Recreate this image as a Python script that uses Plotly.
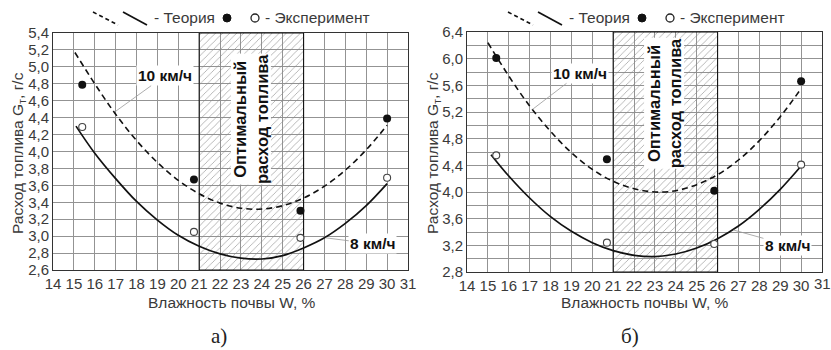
import plotly.graph_objects as go

W_ = 831
H_ = 350

# ---------------- data ----------------
# panel a)
W_exp_a = [15.4, 20.75, 25.85, 30.0]
G10_exp_a = [4.79, 3.67, 3.30, 4.39]
G8_exp_a = [4.29, 3.05, 2.98, 3.69]

W_th10_a = [15.05, 16, 17, 18, 19, 20, 21, 22, 23, 24, 25, 26, 27, 28, 29, 30]
G10_th_a = [5.17, 4.80, 4.44, 4.13, 3.87, 3.66, 3.50, 3.39, 3.33, 3.32, 3.36, 3.45, 3.59, 3.78, 4.02, 4.31]
W_th8_a = [15.1, 16, 17, 18, 19, 20, 21, 22, 23, 24, 25, 26, 27, 28, 29, 30]
G8_th_a = [4.30, 3.98, 3.68, 3.41, 3.19, 3.01, 2.88, 2.79, 2.74, 2.73, 2.77, 2.86, 2.98, 3.15, 3.36, 3.62]

# panel б)
W_exp_b = [15.4, 20.7, 25.84, 30.0]
G10_exp_b = [6.01, 4.49, 4.02, 5.66]
G8_exp_b = [4.55, 3.24, 3.22, 4.41]

W_th10_b = [15.0, 16, 17, 18, 19, 20, 21, 22, 23, 24, 25, 26, 27, 28, 29, 30]
G10_th_b = [6.24, 5.74, 5.29, 4.91, 4.59, 4.34, 4.16, 4.05, 4.00, 4.02, 4.11, 4.26, 4.48, 4.77, 5.13, 5.55]
W_th8_b = [15.15, 16, 17, 18, 19, 20, 21, 22, 23, 24, 25, 26, 27, 28, 29, 30]
G8_th_b = [4.56, 4.24, 3.91, 3.63, 3.41, 3.24, 3.12, 3.05, 3.03, 3.07, 3.16, 3.30, 3.49, 3.74, 4.04, 4.39]

OPT_RANGE = [21, 26]
X_RANGE = [14, 31]
X_TICKS = list(range(14, 32))
Y_RANGE_A = [2.6, 5.4]
Y_RANGE_B = [2.8, 6.4]

FONT = "Liberation Sans, Arial, sans-serif"
TXT = "#3a3a3a"


def px(x):
    return x / W_


def py(y):
    return 1 - y / H_


fig = go.Figure()

panels = [
    dict(xa="x", ya="y", xr=(53, 408), yr=(33, 270), yrange=Y_RANGE_A,
         W=W_exp_a, G10=G10_exp_a, G8=G8_exp_a,
         Wt10=W_th10_a, Gt10=G10_th_a, Wt8=W_th8_a, Gt8=G8_th_a),
    dict(xa="x2", ya="y2", xr=(467, 822), yr=(32, 272), yrange=Y_RANGE_B,
         W=W_exp_b, G10=G10_exp_b, G8=G8_exp_b,
         Wt10=W_th10_b, Gt10=G10_th_b, Wt8=W_th8_b, Gt8=G8_th_b),
]

for p in panels:
    y0, y1 = p["yrange"]
    # optimal zone hatched
    fig.add_trace(go.Scatter(
        x=[OPT_RANGE[0], OPT_RANGE[1], OPT_RANGE[1], OPT_RANGE[0], OPT_RANGE[0]],
        y=[y0, y0, y1, y1, y0],
        mode="lines", fill="toself",
        fillcolor="rgba(0,0,0,0)",
        fillpattern=dict(shape="/", fgcolor="#8a8a8a", size=5, solidity=0.12),
        line=dict(color="#111", width=1.1),
        xaxis=p["xa"], yaxis=p["ya"], hoverinfo="skip", showlegend=False))
    # theory curves
    fig.add_trace(go.Scatter(
        x=p["Wt10"], y=p["Gt10"], mode="lines", line_shape="spline",
        line=dict(color="#111", width=1.6, dash="6px,4px"),
        xaxis=p["xa"], yaxis=p["ya"], showlegend=False))
    fig.add_trace(go.Scatter(
        x=p["Wt8"], y=p["Gt8"], mode="lines", line_shape="spline",
        line=dict(color="#111", width=1.7),
        xaxis=p["xa"], yaxis=p["ya"], showlegend=False))
    # experiment points
    fig.add_trace(go.Scatter(
        x=p["W"], y=p["G10"], mode="markers",
        marker=dict(color="#111", size=8, line=dict(width=0)),
        xaxis=p["xa"], yaxis=p["ya"], showlegend=False))
    fig.add_trace(go.Scatter(
        x=p["W"], y=p["G8"], mode="markers",
        marker=dict(color="white", size=7, line=dict(color="#444", width=1.1)),
        xaxis=p["xa"], yaxis=p["ya"], showlegend=False))

axis_common = dict(
    showgrid=True, gridcolor="#939393", gridwidth=1,
    showline=True, linecolor="#333", linewidth=1, mirror=True,
    zeroline=False, ticks="", automargin=False, ticklabeloverflow="allow",
    tickfont=dict(family=FONT, size=15, color=TXT),
)

layout_axes = {}
for i, p in enumerate(panels):
    sfx = "" if i == 0 else str(i + 1)
    # the last label of the right panel would touch the page edge and is
    # dropped by plotly, so it is written as an annotation below instead
    ttext = [str(t) for t in X_TICKS]
    if i == 1:
        ttext[-1] = ""
    layout_axes["xaxis" + sfx] = dict(
        axis_common, range=X_RANGE, tickmode="array", tickvals=X_TICKS,
        ticktext=ttext,
        domain=[px(p["xr"][0]), px(p["xr"][1])],
        anchor="y" + sfx)
    ya = dict(axis_common, range=p["yrange"], tickformat=".1f",
              domain=[py(p["yr"][1]), py(p["yr"][0])], anchor="x" + sfx)
    if i == 0:
        ya.update(dtick=0.2, tick0=2.6)
    else:
        ya.update(dtick=0.4, tick0=2.8,
                  minor=dict(dtick=0.2, tick0=2.8, showgrid=True,
                             gridcolor="#939393", gridwidth=1))
    layout_axes["yaxis" + sfx] = ya

fig.update_layout(
    template="none",
    width=W_, height=H_,
    margin=dict(l=0, r=0, t=0, b=0, pad=0, autoexpand=False),
    paper_bgcolor="white", plot_bgcolor="white",
    separators=", ",
    showlegend=False,
    font=dict(family=FONT, color=TXT),
    **layout_axes,
)

ann = []
shapes = []


def pann(x, y, text, size, family=FONT, color=TXT, angle=0, xanchor="center"):
    return dict(x=px(x), y=py(y), xref="paper", yref="paper", text=text,
                textangle=angle, showarrow=False, xanchor=xanchor, yanchor="middle",
                font=dict(family=family, size=size, color=color))


labels = [
    dict(xa="x", ya="y", opt=(23.47, 4.38),
         t10=(16.97, 4.47, 50, -36), t8=(27.06, 2.98, 47, 6),
         ytitle_x=18, xtitle_x=232, panel="а)", panel_x=219, offs=0),
    dict(xa="x2", ya="y2", opt=(23.43, 5.33),
         t10=(17.14, 5.24, 47, -36), t8=(26.76, 3.43, 54, 15),
         ytitle_x=433, xtitle_x=645, panel="б)", panel_x=630, offs=415),
]

for L in labels:
    ann.append(dict(
        x=L["opt"][0], y=L["opt"][1], xref=L["xa"], yref=L["ya"],
        xanchor="center", yanchor="middle",
        text="<b>Оптимальный<br>расход топлива</b>", textangle=-90,
        showarrow=False, bgcolor="white", borderpad=0,
        font=dict(family=FONT, size=16.5, color="#111")))
    x, y, ax, ay = L["t10"]
    ann.append(dict(
        x=x, y=y, xref=L["xa"], yref=L["ya"], text="<b>10 км/ч</b>",
        showarrow=True, arrowhead=0, arrowwidth=0.8, arrowcolor="#999",
        ax=ax, ay=ay, bgcolor="white", borderpad=1,
        font=dict(family=FONT, size=15.5, color="#111")))
    x, y, ax, ay = L["t8"]
    ann.append(dict(
        x=x, y=y, xref=L["xa"], yref=L["ya"], text="<b>8 км/ч</b>",
        showarrow=True, arrowhead=0, arrowwidth=0.8, arrowcolor="#999",
        ax=ax, ay=ay, bgcolor="white", borderpad=1,
        font=dict(family=FONT, size=15.5, color="#111")))
    ann.append(pann(L["ytitle_x"], 153, "Расход топлива G<sub>т</sub>, г/с", 15.5, angle=-90))
    ann.append(pann(L["xtitle_x"], 302, "Влажность почвы W, %", 15.5))
    ann.append(pann(L["panel_x"], 336, L["panel"], 21,
                    family="Liberation Serif, Times New Roman, serif", color="#222"))
    o = L["offs"]
    # top legend
    shapes.append(dict(type="line", xref="paper", yref="paper",
                       x0=px(93 + o), y0=py(12), x1=px(118 + o), y1=py(25),
                       line=dict(color="#111", width=1.6, dash="4px,3px")))
    shapes.append(dict(type="line", xref="paper", yref="paper",
                       x0=px(123 + o), y0=py(12), x1=px(147 + o), y1=py(25),
                       line=dict(color="#111", width=1.7)))
    shapes.append(dict(type="circle", xref="paper", yref="paper",
                       x0=px(223 + o), y0=py(14), x1=px(231 + o), y1=py(22),
                       fillcolor="#111", line=dict(color="#111", width=1)))
    shapes.append(dict(type="circle", xref="paper", yref="paper",
                       x0=px(251 + o), y0=py(14), x1=px(259 + o), y1=py(22),
                       fillcolor="white", line=dict(color="#222", width=1.3)))
    ann.append(pann(152 + o, 18, "- Теория", 15.5, xanchor="left"))
    ann.append(pann(263 + o, 18, "- Эксперимент", 15.5, xanchor="left"))

# last x tick label of the right panel
ann.append(dict(x=X_TICKS[-1], xref="x2", y=py(283), yref="paper",
                text=str(X_TICKS[-1]), showarrow=False, xanchor="center",
                yanchor="middle", font=dict(family=FONT, size=15, color=TXT)))

fig.update_layout(annotations=ann, shapes=shapes)
fig.write_html("out.html")
